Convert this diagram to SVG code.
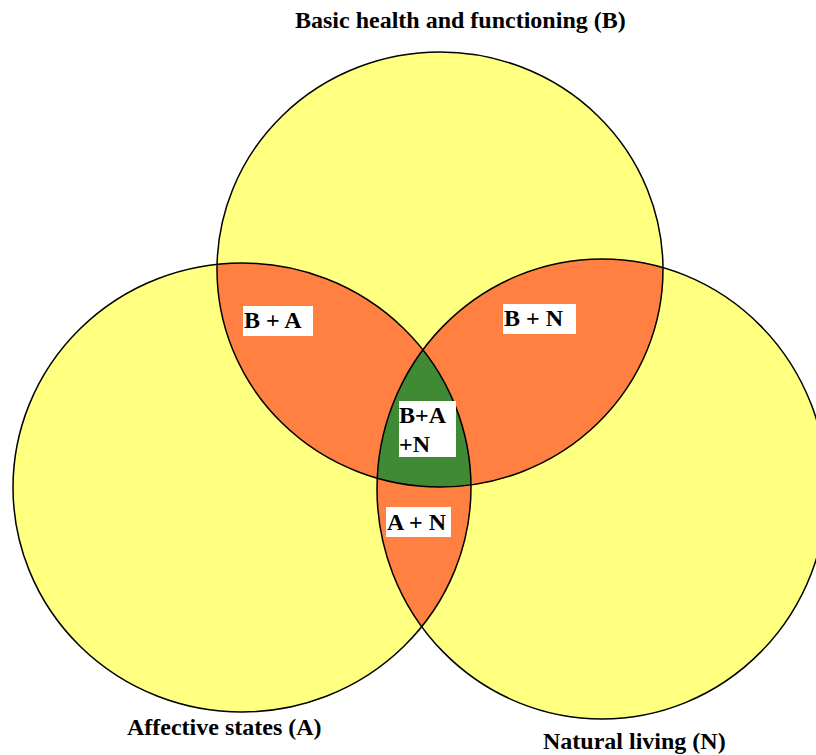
<svg xmlns="http://www.w3.org/2000/svg" width="816" height="755" viewBox="0 0 816 755">
<style>
.set{fill:#FFFF80;stroke:none}
.outline{fill:none;stroke:#000;stroke-width:1.5}
.pair{fill:#FF8040}
.triple{fill:#408A36}
.lbl{font-family:"Liberation Serif","Times New Roman",serif;font-weight:bold;font-size:24px;fill:#000}
.box{fill:#fff}
</style>
<defs>
<clipPath id="cB"><ellipse cx="440" cy="269.5" rx="223" ry="217.5"/></clipPath>
<clipPath id="cA"><ellipse cx="242" cy="487.5" rx="229" ry="224.5"/></clipPath>
<clipPath id="cN"><ellipse cx="602" cy="489" rx="225" ry="230"/></clipPath>
</defs>
<rect width="816" height="755" fill="#fff"/>
<g id="set-B"><ellipse class="set" cx="440" cy="269.5" rx="223" ry="217.5"/></g>
<g id="set-A"><ellipse class="set" cx="242" cy="487.5" rx="229" ry="224.5"/></g>
<g id="set-N"><ellipse class="set" cx="602" cy="489" rx="225" ry="230"/></g>
<g id="region-BA" clip-path="url(#cB)"><ellipse class="pair" cx="242" cy="487.5" rx="229" ry="224.5"/></g>
<g id="region-BN" clip-path="url(#cB)"><ellipse class="pair" cx="602" cy="489" rx="225" ry="230"/></g>
<g id="region-AN" clip-path="url(#cA)"><ellipse class="pair" cx="602" cy="489" rx="225" ry="230"/></g>
<g id="region-BAN" clip-path="url(#cB)"><g clip-path="url(#cA)"><ellipse class="triple" cx="602" cy="489" rx="225" ry="230"/></g></g>
<g id="outlines">
<ellipse class="outline" cx="440" cy="269.5" rx="223" ry="217.5"/>
<ellipse class="outline" cx="242" cy="487.5" rx="229" ry="224.5"/>
<ellipse class="outline" cx="602" cy="489" rx="225" ry="230"/>
</g>
<g id="title-B"><text class="lbl" x="295" y="28">Basic health and functioning (B)</text></g>
<g id="title-A"><text class="lbl" x="127" y="735">Affective states (A)</text></g>
<g id="title-N"><text class="lbl" x="543" y="749">Natural living (N)</text></g>
<g id="label-BA"><rect class="box" x="243" y="306" width="70" height="30"/><text class="lbl" x="244" y="328">B + A</text></g>
<g id="label-BN"><rect class="box" x="503" y="304" width="73" height="30"/><text class="lbl" x="504" y="326">B + N</text></g>
<g id="label-BAN"><rect class="box" x="399" y="401" width="57" height="56"/><text class="lbl" x="399" y="423">B+A</text><text class="lbl" x="399" y="452">+N</text></g>
<g id="label-AN"><rect class="box" x="386" y="507" width="65" height="30"/><text class="lbl" x="387" y="530">A + N</text></g>
</svg>
